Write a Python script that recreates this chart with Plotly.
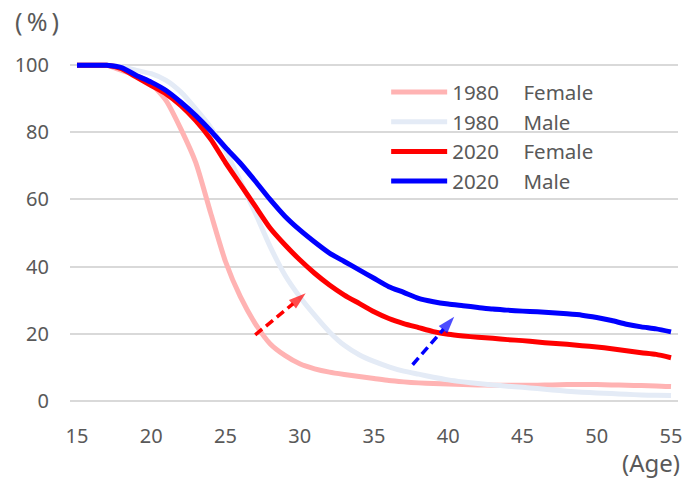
import plotly.graph_objects as go

# age axis
ages = list(range(15, 56))

# share (%) by age
female_1980 = [100, 100, 100, 98.5, 97, 94.5, 89.5, 81, 71, 56, 41.5, 31, 23, 17, 13.5,
               11, 9.5, 8.5, 7.8, 7.2, 6.6, 6, 5.6, 5.3, 5.1, 5, 4.8, 4.7, 4.6, 4.6,
               4.6, 4.6, 4.7, 4.8, 4.8, 4.8, 4.7, 4.6, 4.5, 4.4, 4.2]
male_1980 = [100, 100, 100, 99.5, 98.5, 97.5, 95.5, 92, 87, 81.5, 74.5, 65.5, 56, 46, 37.5,
             31, 25.5, 20.5, 16.5, 13.7, 11.7, 10.1, 8.8, 7.9, 7, 6.2, 5.6, 5.1, 4.7, 4.3,
             4, 3.6, 3.2, 2.8, 2.5, 2.3, 2.1, 1.9, 1.7, 1.6, 1.5]
female_2020 = [100, 100, 100, 99, 96.5, 94, 91.5, 88, 83.5, 78, 71, 64.5, 58, 51.5, 46.5,
               42, 38, 34.5, 31.5, 29, 26.5, 24.5, 23, 21.8, 20.6, 19.8, 19.3, 18.9, 18.6, 18.2,
               17.9, 17.5, 17.1, 16.8, 16.4, 16, 15.5, 14.9, 14.3, 13.8, 12.8]
male_2020 = [100, 100, 100, 99.3, 97, 95, 92.5, 89, 85, 80.5, 75.5, 70.8, 65.5, 60, 55,
             50.9, 47.3, 44, 41.5, 39, 36.5, 34, 32.3, 30.5, 29.5, 28.8, 28.3, 27.8, 27.3, 27,
             26.7, 26.5, 26.2, 25.9, 25.5, 24.8, 23.9, 22.8, 22, 21.4, 20.5]

series = [
    ("1980\u3000\u2009Female", female_1980, "#ffb3b3"),
    ("1980\u3000\u2009Male", male_1980, "#e4ebf6"),
    ("2020\u3000\u2009Female", female_2020, "#ff0000"),
    ("2020\u3000\u2009Male", male_2020, "#0000ff"),
]

# dashed arrows (tail -> head), in data units
red_arrow_x = [27.0, 30.4]
red_arrow_y = [19.6, 32.0]
blue_arrow_x = [37.6, 40.4]
blue_arrow_y = [10.7, 25.0]

FONT = "Noto Sans"
GREY = "#595959"

fig = go.Figure()

for name, vals, col in series:
    fig.add_trace(go.Scatter(
        x=ages, y=vals, name=name, mode="lines",
        line=dict(color=col, width=5, shape="spline", smoothing=0.6),
    ))

for ax_, ay_, col in [(red_arrow_x, red_arrow_y, "#ff0000"), (blue_arrow_x, blue_arrow_y, "#0000ff")]:
    fig.add_trace(go.Scatter(
        x=ax_, y=ay_, mode="lines+markers", showlegend=False, hoverinfo="skip",
        line=dict(color=col, width=3.5, dash="9px,5px"),
        marker=dict(symbol=["circle", "arrow"], size=[0, 18], color=col, angleref="previous",
                    line=dict(width=0)),
    ))

W, H = 690, 480
L, R, T, B = 70, 12, 62, 76
pw, ph = W - L - R, H - T - B

fig.update_layout(
    width=W, height=H,
    margin=dict(l=L, r=R, t=T, b=B),
    paper_bgcolor="white", plot_bgcolor="white",
    font=dict(family=FONT, size=20, color=GREY),
    legend=dict(x=0.52, y=0.97, xanchor="left", yanchor="top",
                bgcolor="rgba(0,0,0,0)", itemwidth=56, font=dict(size=20.5, color=GREY)),
    xaxis=dict(range=[14.53, 55.47], tickvals=[15, 20, 25, 30, 35, 40, 45, 50, 55],
               showgrid=False, zeroline=False, showline=False, ticks="",
               ticklabelstandoff=18, automargin=False),
    yaxis=dict(range=[-1, 101], tickvals=[0, 20, 40, 60, 80, 100],
               showgrid=True, gridcolor="#d9d9d9", gridwidth=1.5, zeroline=False,
               showline=False, ticks="", ticklabelstandoff=20, automargin=False),
    annotations=[
        dict(text="(\u2009%\u2009)", x=(37 - L) / pw, y=(H - B - 21) / ph, xref="paper", yref="paper",
             xanchor="center", yanchor="middle", showarrow=False, font=dict(size=25)),
        dict(text="(Age)", x=(651 - L) / pw, y=(H - B - 462) / ph, xref="paper", yref="paper",
             xanchor="center", yanchor="middle", showarrow=False, font=dict(size=24)),
    ],
)

fig.write_html("out.html", config={"displayModeBar": False},
               post_script="document.body.style.margin='0';")
